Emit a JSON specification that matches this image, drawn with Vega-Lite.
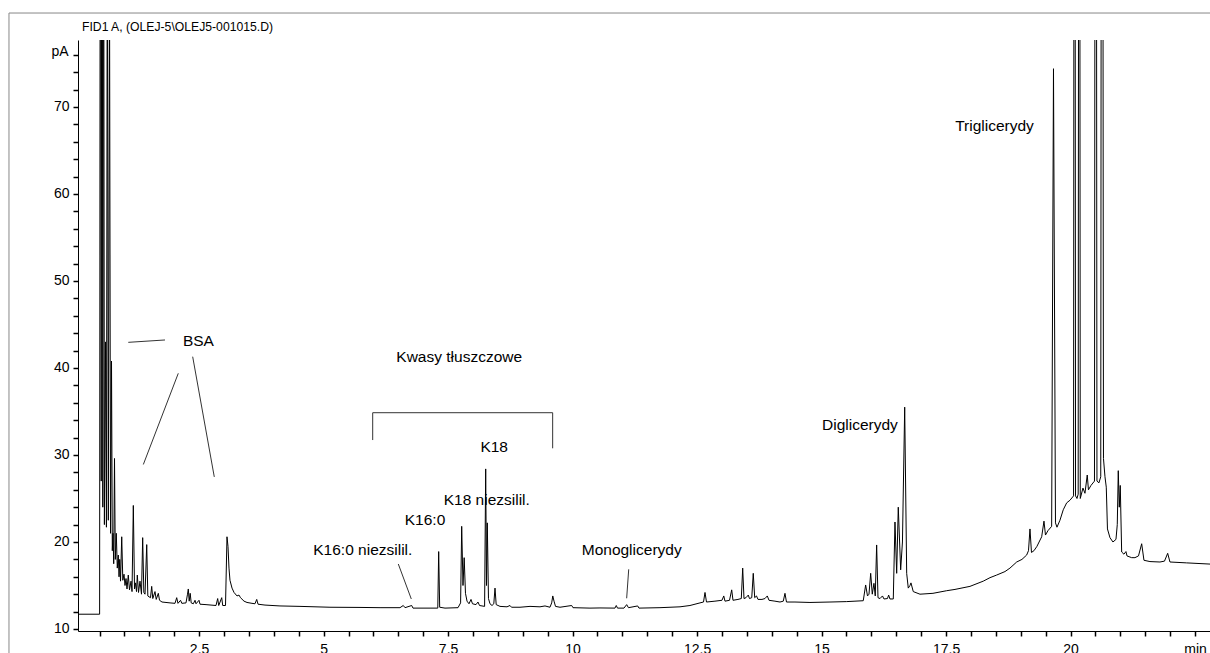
{
"$schema": "https://vega.github.io/schema/vega-lite/v6.json",
"width": 1132, "height": 591,
"autosize": {"type": "none"},
"padding": {"left": 78, "top": 40, "right": 0, "bottom": 22},
"background": "white",
"config": {"view": {"stroke": null}, "font": "Liberation Sans, Arial, sans-serif", "axis": {"ticks": true, "tickColor": "#000000", "domainColor": "#000000", "tickOpacity": 1, "domainOpacity": 1, "tickWidth": 1.5}},
"title": {"text": "FID1 A,  (OLEJ-5\\OLEJ5-001015.D)", "anchor": "start", "frame": "group", "orient": "top", "offset": -31, "dx": 4, "fontSize": 12.2, "fontWeight": "normal", "color": "black", "baseline": "alphabetic", "font": "Liberation Sans, Arial, sans-serif"},
"datasets": {
"trace": [
{"t":0.068,"v":11.7},{"t":0.502,"v":11.7},{"t":0.518,"v":130},{"t":0.534,"v":27},{"t":0.55,"v":150},{"t":0.566,"v":24},{"t":0.582,"v":110},{"t":0.598,"v":22},{"t":0.62,"v":43},{"t":0.639,"v":21.7},{"t":0.657,"v":95},{"t":0.677,"v":22.5},{"t":0.701,"v":85},{"t":0.721,"v":21},{"t":0.741,"v":40.8},{"t":0.757,"v":19},{"t":0.771,"v":21},{"t":0.785,"v":17.5},{"t":0.801,"v":29.6},{"t":0.817,"v":18},{"t":0.837,"v":21},{"t":0.857,"v":17},{"t":0.877,"v":18.5},{"t":0.892,"v":16},{"t":0.906,"v":18},{"t":0.922,"v":15.5},{"t":0.946,"v":20.6},{"t":0.968,"v":15.6},{"t":0.992,"v":16.3},{"t":1.012,"v":15},{"t":1.032,"v":15.8},{"t":1.052,"v":14.6},{"t":1.078,"v":16.2},{"t":1.102,"v":14.5},{"t":1.133,"v":15.5},{"t":1.153,"v":14.3},{"t":1.179,"v":24.2},{"t":1.203,"v":14.6},{"t":1.223,"v":15.3},{"t":1.243,"v":14.3},{"t":1.259,"v":16.2},{"t":1.283,"v":14.2},{"t":1.313,"v":15.5},{"t":1.343,"v":14.0},{"t":1.367,"v":20.5},{"t":1.39,"v":14.2},{"t":1.414,"v":14.0},{"t":1.448,"v":19.7},{"t":1.47,"v":13.8},{"t":1.494,"v":13.7},{"t":1.524,"v":13.6},{"t":1.548,"v":14.9},{"t":1.57,"v":13.5},{"t":1.614,"v":14.3},{"t":1.639,"v":13.4},{"t":1.681,"v":14.1},{"t":1.705,"v":13.3},{"t":1.755,"v":13.1},{"t":1.916,"v":13.0},{"t":2.016,"v":12.95},{"t":2.05,"v":13.6},{"t":2.076,"v":12.95},{"t":2.127,"v":13.3},{"t":2.153,"v":12.95},{"t":2.237,"v":13.0},{"t":2.267,"v":14.0},{"t":2.283,"v":14.6},{"t":2.301,"v":13.2},{"t":2.321,"v":14.1},{"t":2.341,"v":13.0},{"t":2.384,"v":12.9},{"t":2.418,"v":13.3},{"t":2.438,"v":12.9},{"t":2.498,"v":13.3},{"t":2.518,"v":12.85},{"t":2.639,"v":12.8},{"t":2.839,"v":12.7},{"t":2.873,"v":13.5},{"t":2.894,"v":12.7},{"t":2.954,"v":13.6},{"t":2.974,"v":12.7},{"t":3.03,"v":12.7},{"t":3.06,"v":20.6},{"t":3.08,"v":19.5},{"t":3.1,"v":17},{"t":3.12,"v":15.6},{"t":3.161,"v":14.7},{"t":3.201,"v":14.2},{"t":3.261,"v":13.8},{"t":3.301,"v":13.9},{"t":3.331,"v":13.6},{"t":3.402,"v":13.2},{"t":3.462,"v":13.05},{"t":3.562,"v":12.95},{"t":3.622,"v":12.9},{"t":3.657,"v":13.4},{"t":3.683,"v":12.85},{"t":3.823,"v":12.75},{"t":4.124,"v":12.65},{"t":4.526,"v":12.6},{"t":5.128,"v":12.5},{"t":5.731,"v":12.48},{"t":6.133,"v":12.45},{"t":6.534,"v":12.45},{"t":6.6,"v":12.7},{"t":6.635,"v":12.45},{"t":6.769,"v":12.7},{"t":6.795,"v":12.4},{"t":7.137,"v":12.4},{"t":7.293,"v":12.4},{"t":7.311,"v":18.9},{"t":7.331,"v":12.5},{"t":7.438,"v":12.4},{"t":7.699,"v":12.45},{"t":7.751,"v":13},{"t":7.773,"v":21.8},{"t":7.799,"v":15},{"t":7.823,"v":18.2},{"t":7.849,"v":14.1},{"t":7.88,"v":13.2},{"t":7.92,"v":12.9},{"t":7.96,"v":13.4},{"t":7.99,"v":12.9},{"t":8.06,"v":12.8},{"t":8.1,"v":13.1},{"t":8.131,"v":12.7},{"t":8.233,"v":12.6},{"t":8.255,"v":28.4},{"t":8.271,"v":15},{"t":8.287,"v":22.2},{"t":8.311,"v":13.5},{"t":8.341,"v":12.9},{"t":8.382,"v":12.7},{"t":8.418,"v":12.9},{"t":8.442,"v":14.7},{"t":8.466,"v":12.8},{"t":8.542,"v":12.6},{"t":8.683,"v":12.55},{"t":8.743,"v":12.7},{"t":8.773,"v":12.5},{"t":8.944,"v":12.5},{"t":9.145,"v":12.6},{"t":9.345,"v":12.55},{"t":9.446,"v":12.65},{"t":9.546,"v":12.5},{"t":9.58,"v":13.0},{"t":9.602,"v":13.8},{"t":9.627,"v":13.2},{"t":9.657,"v":12.6},{"t":9.747,"v":12.5},{"t":9.982,"v":12.7},{"t":10.008,"v":12.45},{"t":10.349,"v":12.4},{"t":10.55,"v":12.42},{"t":10.851,"v":12.4},{"t":10.877,"v":12.7},{"t":10.902,"v":12.4},{"t":11.032,"v":12.4},{"t":11.086,"v":12.8},{"t":11.122,"v":12.45},{"t":11.307,"v":12.65},{"t":11.333,"v":12.4},{"t":11.755,"v":12.45},{"t":12.157,"v":12.55},{"t":12.357,"v":12.7},{"t":12.558,"v":13.0},{"t":12.629,"v":13.1},{"t":12.659,"v":14.2},{"t":12.689,"v":13.1},{"t":12.859,"v":13.2},{"t":13.0,"v":13.3},{"t":13.036,"v":13.8},{"t":13.06,"v":13.2},{"t":13.151,"v":13.3},{"t":13.195,"v":14.5},{"t":13.221,"v":13.3},{"t":13.321,"v":13.4},{"t":13.388,"v":13.5},{"t":13.416,"v":17.0},{"t":13.442,"v":13.5},{"t":13.482,"v":13.6},{"t":13.528,"v":13.9},{"t":13.552,"v":13.5},{"t":13.598,"v":13.6},{"t":13.628,"v":16.4},{"t":13.657,"v":13.6},{"t":13.693,"v":13.8},{"t":13.723,"v":13.4},{"t":13.803,"v":13.4},{"t":13.863,"v":13.5},{"t":13.91,"v":13.8},{"t":13.944,"v":13.3},{"t":14.064,"v":13.2},{"t":14.165,"v":13.1},{"t":14.231,"v":13.2},{"t":14.265,"v":14.1},{"t":14.295,"v":13.1},{"t":14.466,"v":13.1},{"t":14.767,"v":13.05},{"t":15.169,"v":13.1},{"t":15.504,"v":13.15},{"t":15.671,"v":13.2},{"t":15.837,"v":13.25},{"t":15.885,"v":15.06},{"t":15.922,"v":13.8},{"t":15.952,"v":14.0},{"t":15.986,"v":16.4},{"t":16.018,"v":14.0},{"t":16.052,"v":15.25},{"t":16.078,"v":13.8},{"t":16.106,"v":19.66},{"t":16.133,"v":13.6},{"t":16.173,"v":13.5},{"t":16.223,"v":13.8},{"t":16.253,"v":13.45},{"t":16.323,"v":13.5},{"t":16.347,"v":13.9},{"t":16.373,"v":13.45},{"t":16.44,"v":13.45},{"t":16.474,"v":22.3},{"t":16.508,"v":16.4},{"t":16.54,"v":24.0},{"t":16.588,"v":16.8},{"t":16.624,"v":20},{"t":16.669,"v":35.5},{"t":16.709,"v":16.4},{"t":16.741,"v":14.7},{"t":16.775,"v":15.0},{"t":16.795,"v":15.3},{"t":16.841,"v":14.3},{"t":16.976,"v":14.0},{"t":17.237,"v":14.1},{"t":17.512,"v":14.4},{"t":17.679,"v":14.55},{"t":17.98,"v":14.9},{"t":18.247,"v":15.5},{"t":18.382,"v":15.9},{"t":18.516,"v":16.2},{"t":18.683,"v":16.6},{"t":18.783,"v":17.0},{"t":18.918,"v":17.7},{"t":19.024,"v":18.0},{"t":19.118,"v":18.5},{"t":19.155,"v":19.0},{"t":19.185,"v":21.5},{"t":19.215,"v":18.8},{"t":19.265,"v":19.0},{"t":19.325,"v":19.5},{"t":19.42,"v":20.6},{"t":19.466,"v":22.4},{"t":19.496,"v":20.8},{"t":19.546,"v":21.3},{"t":19.62,"v":21.8},{"t":19.657,"v":74.4},{"t":19.697,"v":22.2},{"t":19.727,"v":21.7},{"t":19.787,"v":22.5},{"t":19.853,"v":23.7},{"t":19.922,"v":24.5},{"t":19.988,"v":24.8},{"t":20.06,"v":25.3},{"t":20.08,"v":200},{"t":20.1,"v":25.3},{"t":20.129,"v":25.0},{"t":20.153,"v":25.5},{"t":20.173,"v":200},{"t":20.195,"v":25},{"t":20.249,"v":26.2},{"t":20.289,"v":25.6},{"t":20.335,"v":27.7},{"t":20.359,"v":26},{"t":20.41,"v":26.5},{"t":20.48,"v":27},{"t":20.506,"v":200},{"t":20.53,"v":27},{"t":20.57,"v":26.8},{"t":20.606,"v":27.5},{"t":20.631,"v":200},{"t":20.661,"v":29.6},{"t":20.691,"v":27.5},{"t":20.717,"v":26.3},{"t":20.741,"v":21.5},{"t":20.791,"v":20.5},{"t":20.851,"v":20},{"t":20.912,"v":20.3},{"t":20.938,"v":22},{"t":20.958,"v":28.2},{"t":20.978,"v":24},{"t":20.998,"v":26.5},{"t":21.026,"v":18.85},{"t":21.072,"v":18.6},{"t":21.112,"v":18.9},{"t":21.133,"v":18.4},{"t":21.227,"v":18.2},{"t":21.293,"v":18.2},{"t":21.364,"v":18.4},{"t":21.428,"v":19.8},{"t":21.474,"v":17.9},{"t":21.594,"v":17.75},{"t":21.795,"v":17.7},{"t":21.886,"v":17.8},{"t":21.95,"v":18.7},{"t":21.996,"v":17.7},{"t":22.331,"v":17.6},{"t":22.839,"v":17.45}
],
"labels": [
{"label":"BSA","t":2.486,"v":42.53},
{"label":"Kwasy tłuszczowe","t":7.723,"v":40.72},
{"label":"K18","t":8.426,"v":30.38},
{"label":"K18 niezsilil.","t":8.277,"v":24.25},
{"label":"K16:0","t":7.036,"v":21.95},
{"label":"K16:0 niezsilil.","t":5.787,"v":18.5},
{"label":"Monoglicerydy","t":11.187,"v":18.5},
{"label":"Diglicerydy","t":15.771,"v":32.87},
{"label":"Triglicerydy","t":18.472,"v":67.24}
],
"lines": [
{"t":1.078,"v":42.95,"t2":1.815,"v2":43.22},
{"t":2.082,"v":39.39,"t2":1.38,"v2":28.91},
{"t":2.371,"v":41.3,"t2":2.805,"v2":27.48},
{"t":5.986,"v":34.86,"t2":9.6,"v2":34.86},
{"t":5.986,"v":34.86,"t2":5.986,"v2":31.72},
{"t":9.6,"v":34.86,"t2":9.6,"v2":30.77},
{"t":6.5,"v":17.47,"t2":6.761,"v2":13.45},
{"t":11.127,"v":16.86,"t2":11.086,"v2":13.53}
],
"frame": [
{"t":-1.318,"v":80.8,"t2":23,"v2":80.8},
{"t":-1.318,"v":80.8,"t2":-1.318,"v2":7}
]
},
"encoding": {
"x": {"field": "t", "type": "quantitative", "scale": {"domain": [0.068, 22.8], "nice": false, "zero": false},
 "axis": {"title": null, "grid": false, "values": [0.5,1,1.5,2,2.5,3,3.5,4,4.5,5,5.5,6,6.5,7,7.5,8,8.5,9,9.5,10,10.5,11,11.5,12,12.5,13,13.5,14,14.5,15,15.5,16,16.5,17,17.5,18,18.5,19,19.5,20,20.5,21,21.5,22,22.5],
  "labelExpr": "datum.value === 22.5 ? 'min' : (datum.value % 2.5 === 0 ? format(datum.value, '~g') : '')",
  "ticks": true, "tickColor": "#000000", "tickWidth": 1.5, "tickOpacity": 1,
  "tickSize": 5, "labelPadding": 6, "labelFontSize": 14, "labelColor": "black", "labelBaseline": "top", "labelFlush": false, "labelOverlap": false, "labelBound": false}},
"y": {"field": "v", "type": "quantitative", "scale": {"domain": [9.77, 77.7], "nice": false, "zero": false},
 "axis": {"title": "pA", "titleAngle": 0, "titleAlign": "right", "titleBaseline": "alphabetic", "titleX": -10, "titleY": 15, "titleFontSize": 14, "titleFontWeight": "normal", "titleColor": "black",
  "grid": false, "values": [10,12,14,16,18,20,22,24,26,28,30,32,34,36,38,40,42,44,46,48,50,52,54,56,58,60,62,64,66,68,70,72,74,76],
  "labelExpr": "datum.value % 10 === 0 ? format(datum.value, 'd') : ''",
  "ticks": true, "tickColor": "#000000", "tickWidth": 1.5, "tickOpacity": 1,
  "tickSize": 5,
  "labelPadding": 4, "labelFontSize": 14, "labelColor": "black", "labelBaseline": "middle", "labelFlush": false, "labelOverlap": false, "labelBound": false}}
},
"layer": [
{
"data": {"name": "trace"},
"mark": {"type": "line", "color": "black", "strokeWidth": 1, "clip": true}
},
{
"data": {"name": "frame"},
"mark": {"type": "rule", "color": "#888888", "strokeWidth": 1, "clip": false},
"encoding": {"x2": {"field": "t2"}, "y2": {"field": "v2"}}
},
{
"data": {"name": "lines"},
"mark": {"type": "rule", "color": "#333333", "strokeWidth": 1},
"encoding": {"x2": {"field": "t2"}, "y2": {"field": "v2"}}
},
{
"data": {"name": "labels"},
"mark": {"type": "text", "fontSize": 15.5, "align": "center", "baseline": "alphabetic", "color": "black"},
"encoding": {"text": {"field": "label"}}
}
]
}
